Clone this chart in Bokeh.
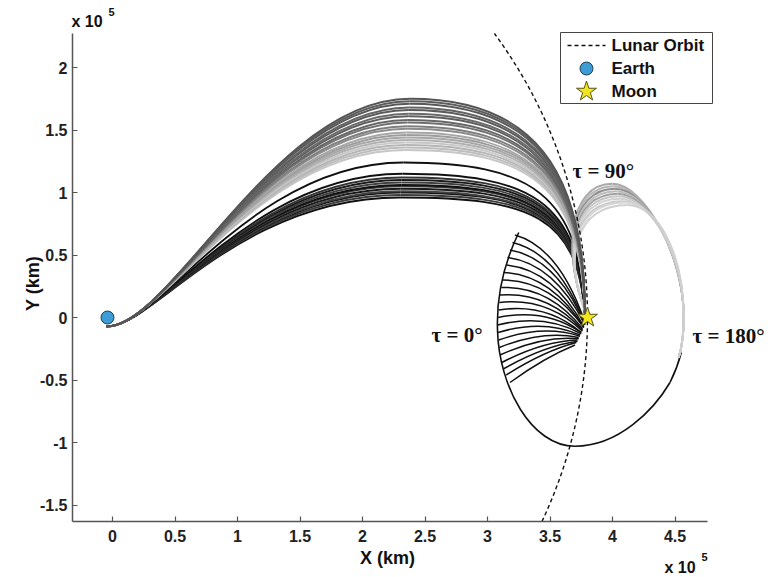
import numpy as np
from bokeh.plotting import figure
from bokeh.models import (ColumnDataSource, Label, FixedTicker, CustomJSTickFormatter, Range1d)
from bokeh.embed import file_html
from bokeh.resources import INLINE

# ---------------- data (units: 1e5 km) ----------------
earth_x, earth_y = [-0.04], [0.0]
moon_x, moon_y = [3.80], [0.0]
lunar_orbit_radius = 3.84

x_axis_limits = (-0.32, 4.76)
y_axis_limits = (-1.632, 2.272)
x_ticks = [0, 0.5, 1, 1.5, 2, 2.5, 3, 3.5, 4, 4.5]
y_ticks = [-1.5, -1, -0.5, 0, 0.5, 1, 1.5, 2]

legend_labels = ["Lunar Orbit", "Earth", "Moon"]

# outbound legs: apex height and colour
out_apex_y = [0.96, 0.98, 1.00, 1.01, 1.03, 1.05, 1.06, 1.08, 1.10, 1.12, 1.15, 1.24,
              1.34, 1.36, 1.38, 1.40, 1.42, 1.44, 1.46, 1.48, 1.51, 1.53, 1.56, 1.58,
              1.61, 1.63, 1.66, 1.68, 1.71, 1.73, 1.75]
out_color = ["#111111", "#3c3c3c", "#111111", "#444444", "#1a1a1a", "#3a3a3a", "#111111",
             "#404040", "#1a1a1a", "#333333", "#111111", "#111111",
             "#c6c6c6", "#bdbdbd", "#b4b4b4", "#c8c8c8", "#b0b0b0", "#a8a8a8", "#9c9c9c",
             "#a6a6a6", "#8c8c8c", "#7e7e7e", "#707070", "#666666", "#5e5e5e", "#6a6a6a",
             "#5a5a5a", "#636363", "#585858", "#5d5d5d", "#555555"]

# tau = 0 deg family (black spokes ending on the left boundary)
spoke_end_x = [3.22, 3.20, 3.18, 3.16, 3.15, 3.13, 3.12, 3.11, 3.10, 3.095, 3.09, 3.085,
               3.08, 3.085, 3.09, 3.095, 3.10, 3.115, 3.13, 3.15, 3.18]
spoke_end_y = [0.66, 0.60, 0.54, 0.48, 0.42, 0.36, 0.30, 0.24, 0.18, 0.12, 0.06, 0.00,
               -0.06, -0.12, -0.18, -0.24, -0.30, -0.36, -0.41, -0.46, -0.52]
spoke_start_x = [3.78, 3.78, 3.78, 3.78, 3.77, 3.77, 3.77, 3.76, 3.76, 3.76, 3.75, 3.75,
                 3.75, 3.74, 3.74, 3.73, 3.73, 3.72, 3.72, 3.71, 3.70]
spoke_start_y = [-0.04, -0.05, -0.05, -0.06, -0.07, -0.08, -0.08, -0.09, -0.10, -0.11,
                 -0.12, -0.12, -0.13, -0.14, -0.15, -0.16, -0.17, -0.18, -0.19, -0.20, -0.22]
spoke_bow = [0.25, 0.24, 0.23, 0.22, 0.21, 0.20, 0.19, 0.18, 0.17, 0.16, 0.15, 0.14,
             0.13, 0.12, 0.11, 0.10, 0.09, 0.08, 0.07, 0.06, 0.05]

# big black post-lunar arc (cubic segments: 4 control points each)
big_loop_ctrl_x = [[3.25, 3.14, 3.07, 3.08], [3.08, 3.09, 3.35, 3.70],
                   [3.70, 4.05, 4.33, 4.46], [4.46, 4.50, 4.53, 4.55]]
big_loop_ctrl_y = [[0.68, 0.45, 0.18, -0.10], [-0.10, -0.55, -1.03, -1.03],
                   [-1.03, -1.03, -0.74, -0.52], [-0.52, -0.44, -0.36, -0.28]]

# tau = 90..180 deg family (grey loops): top point and colour
loop_top_x = [4.00, 4.01, 4.02, 4.03, 4.04, 4.05, 4.06, 4.08, 4.10, 4.12]
loop_top_y = [1.07, 1.05, 1.03, 1.01, 0.99, 0.97, 0.95, 0.93, 0.92, 0.90]
loop_color = ["#a8a8a8", "#b4b4b4", "#8f8f8f", "#bdbdbd", "#a0a0a0", "#c4c4c4",
              "#d0d0d0", "#c8c8c8", "#d6d6d6", "#cfcfcf"]

# ---------------- figure (frame covers whole canvas; axes fixed inside) ----------------
W, H_PX = 768, 577
PX = 125.0                      # pixels per 1e5 km
X0_PX, Y0_PX = 112.0, 317.0     # pixel position of data origin


def px2x(px):
    return (px - X0_PX) / PX


def px2y(py):
    return (Y0_PX - py) / PX


p = figure(width=W, height=H_PX, output_backend="svg", toolbar_location=None,
           x_range=Range1d(px2x(0), px2x(W)), y_range=Range1d(px2y(H_PX), px2y(0)),
           min_border=0, min_border_left=0, min_border_right=0,
           min_border_top=0, min_border_bottom=0)
p.xgrid.visible = False
p.ygrid.visible = False
p.outline_line_color = None
p.background_fill_color = "white"
p.border_fill_color = "white"

FONT = "Liberation Sans"
for ax in (p.xaxis[0], p.yaxis[0]):
    ax.major_tick_in = 5
    ax.major_tick_out = 0
    ax.minor_tick_line_color = None
    ax.axis_line_color = "#555555"
    ax.axis_line_width = 1.5
    ax.major_tick_line_color = "#555555"
    ax.major_tick_line_width = 1.2
    ax.major_label_text_font = FONT
    ax.major_label_text_font_style = "bold"
    ax.major_label_text_font_size = "16px"
    ax.major_label_text_color = "#222222"
    ax.formatter = CustomJSTickFormatter(code="return tick.toString();")
p.xaxis[0].ticker = FixedTicker(ticks=x_ticks)
p.yaxis[0].ticker = FixedTicker(ticks=y_ticks)
p.xaxis[0].bounds = x_axis_limits
p.yaxis[0].bounds = y_axis_limits
p.xaxis[0].fixed_location = y_axis_limits[0]
p.yaxis[0].fixed_location = x_axis_limits[0]
p.xaxis[0].major_label_standoff = 8
p.yaxis[0].major_label_standoff = 5

# ---- spokes (tau = 0) ----
sx0, sy0, sx1, sy1, scx, scy = [], [], [], [], [], []
for ex, ey, bx, by, bow in zip(spoke_end_x, spoke_end_y, spoke_start_x, spoke_start_y, spoke_bow):
    sx0.append(ex); sy0.append(ey); sx1.append(bx); sy1.append(by)
    scx.append((ex + bx) / 2 + 0.3 * bow)
    scy.append((ey + by) / 2 + bow)
p.quadratic(x0="x0", y0="y0", x1="x1", y1="y1", cx="cx", cy="cy",
            source=ColumnDataSource(dict(x0=sx0, y0=sy0, x1=sx1, y1=sy1, cx=scx, cy=scy)),
            line_color="#111111", line_width=1.5)

# ---- big black arc ----
bx0 = [c[0] for c in big_loop_ctrl_x]; by0 = [c[0] for c in big_loop_ctrl_y]
bcx0 = [c[1] for c in big_loop_ctrl_x]; bcy0 = [c[1] for c in big_loop_ctrl_y]
bcx1 = [c[2] for c in big_loop_ctrl_x]; bcy1 = [c[2] for c in big_loop_ctrl_y]
bx1 = [c[3] for c in big_loop_ctrl_x]; by1 = [c[3] for c in big_loop_ctrl_y]
p.bezier(x0="x0", y0="y0", x1="x1", y1="y1", cx0="cx0", cy0="cy0", cx1="cx1", cy1="cy1",
         source=ColumnDataSource(dict(x0=bx0, y0=by0, x1=bx1, y1=by1, cx0=bcx0, cy0=bcy0,
                                      cx1=bcx1, cy1=bcy1)),
         line_color="#111111", line_width=1.6)


def outbound_source(idx):
    d = dict(x0=[], y0=[], x1=[], y1=[], cx0=[], cy0=[], cx1=[], cy1=[], color=[])
    for i in idx:
        H = out_apex_y[i]
        s = (H - 0.96) / 0.79
        ax = 2.30 + 0.08 * s
        # ascending half
        d["x0"].append(-0.05); d["y0"].append(-0.07)
        d["cx0"].append(0.30 + 0.15 * s); d["cy0"].append(-0.10)
        d["cx1"].append(1.0 + 0.3 * s); d["cy1"].append(H)
        d["x1"].append(ax); d["y1"].append(H)
        d["color"].append(out_color[i])
        # descending half
        d["x0"].append(ax); d["y0"].append(H)
        d["cx0"].append(3.35); d["cy0"].append(H)
        d["cx1"].append(3.72 + 0.06 * s); d["cy1"].append((0.85 - 0.16 * s) * H)
        d["x1"].append(3.78); d["y1"].append(0.02)
        d["color"].append(out_color[i])
    return ColumnDataSource(d)


black_idx = [i for i, h in enumerate(out_apex_y) if h < 1.3]
grey_idx = [i for i, h in enumerate(out_apex_y) if h >= 1.3]

p.bezier(x0="x0", y0="y0", x1="x1", y1="y1", cx0="cx0", cy0="cy0", cx1="cx1", cy1="cy1",
         source=outbound_source(black_idx), line_color="color", line_width=1.8)

# ---- grey loops (tau = 90 .. 180) ----
ld = dict(x0=[], y0=[], x1=[], y1=[], cx0=[], cy0=[], cx1=[], cy1=[], color=[])
for tx, ty, c in zip(loop_top_x, loop_top_y, loop_color):
    segs = [((3.79, 0.03), (3.60, 0.50), (3.64 + (tx - 4.0) * 0.6, ty), (tx, ty)),
            ((tx, ty), (tx + 0.25, ty), (4.57, 0.50), (4.57, 0.0)),
            ((4.57, 0.0), (4.57, -0.12), (4.56, -0.22), (4.53, -0.32))]
    for a, b, e, f in segs:
        ld["x0"].append(a[0]); ld["y0"].append(a[1])
        ld["cx0"].append(b[0]); ld["cy0"].append(b[1])
        ld["cx1"].append(e[0]); ld["cy1"].append(e[1])
        ld["x1"].append(f[0]); ld["y1"].append(f[1])
        ld["color"].append(c)
p.bezier(x0="x0", y0="y0", x1="x1", y1="y1", cx0="cx0", cy0="cy0", cx1="cx1", cy1="cy1",
         source=ColumnDataSource(ld), line_color="color", line_width=1.8)

p.bezier(x0="x0", y0="y0", x1="x1", y1="y1", cx0="cx0", cy0="cy0", cx1="cx1", cy1="cy1",
         source=outbound_source(grey_idx), line_color="color", line_width=1.8)

# ---- lunar orbit (only the part inside the axes box) ----
a0 = float(np.arcsin(y_axis_limits[0] / lunar_orbit_radius))
a1 = float(np.arcsin(y_axis_limits[1] / lunar_orbit_radius))
p.arc(x=earth_x, y=earth_y, radius=lunar_orbit_radius, start_angle=a0, end_angle=a1,
      line_color="#111111", line_width=1.4, line_dash="4 3")

p.scatter(x=earth_x, y=earth_y, marker="circle", size=13,
          fill_color="#3d9bd6", line_color="#1d3f55", line_width=1)
p.scatter(x=moon_x, y=moon_y, marker="star", size=21,
          fill_color="#f2e51c", line_color="#55551e", line_width=1)

# ---- legend box (drawn by hand so the symbols keep their plot size) ----
LG_L, LG_R, LG_T, LG_B = 560, 712, 32, 103
LG_ROWS = [45, 68, 91]
LG_ICON_X, LG_TEXT_X = 586, 611
p.quad(left=[px2x(LG_L)], right=[px2x(LG_R)], top=[px2y(LG_T)], bottom=[px2y(LG_B)],
       fill_color="white", line_color="#444444", line_width=1)
p.segment(x0=[px2x(567)], y0=[px2y(LG_ROWS[0])], x1=[px2x(605)], y1=[px2y(LG_ROWS[0])],
          line_color="#111111", line_width=1.4, line_dash="4 3")
p.scatter(x=[px2x(LG_ICON_X)], y=[px2y(LG_ROWS[1])], marker="circle", size=13,
          fill_color="#3d9bd6", line_color="#1d3f55", line_width=1)
p.scatter(x=[px2x(LG_ICON_X)], y=[px2y(LG_ROWS[2])], marker="star", size=21,
          fill_color="#f2e51c", line_color="#55551e", line_width=1)


# ---- text labels ----
def lab(x, y, text, size, font=FONT, angle=0, align="left"):
    p.add_layout(Label(x=x, y=y, text=text, text_font=font, text_font_style="bold",
                       text_font_size=size, text_color="#111111", angle=angle,
                       text_align=align, text_baseline="middle"))


for txt, row in zip(legend_labels, LG_ROWS):
    lab(px2x(LG_TEXT_X), px2y(row), txt, "17px")

lab(px2x(431), px2y(334), "τ = 0°", "21px", font="Liberation Serif")
lab(px2x(572), px2y(170), "τ = 90°", "21px", font="Liberation Serif")
lab(px2x(692), px2y(335), "τ = 180°", "21px", font="Liberation Serif")

lab(px2x(387), px2y(557), "X (km)", "18px", align="center")
lab(px2x(32), px2y(283), "Y (km)", "18px", angle=np.pi / 2, align="center")

lab(px2x(71), px2y(21), "x 10", "16px")
lab(px2x(108), px2y(11), "5", "11px")
lab(px2x(664), px2y(567), "x 10", "16px")
lab(px2x(701), px2y(556), "5", "11px")

open("out.html", "w").write(file_html(p, INLINE))
